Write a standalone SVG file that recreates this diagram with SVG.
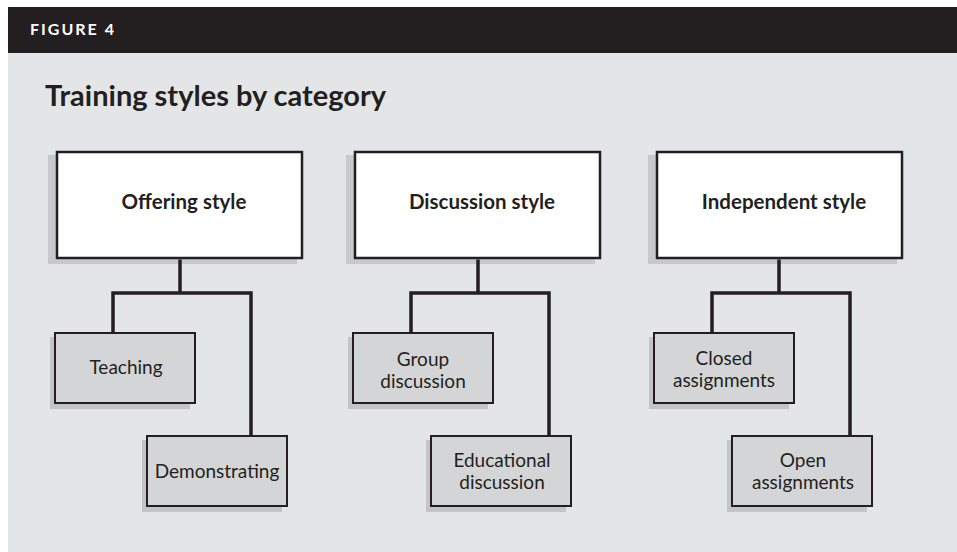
<svg xmlns="http://www.w3.org/2000/svg" width="957" height="552" viewBox="0 0 957 552">
  <defs>
    <style>
      .bg { fill: #e4e5e7; }
      .hdr { fill: #231f20; }
      .hdrtxt { font-family: Lato, "Open Sans", "Liberation Sans", sans-serif; font-weight: bold; font-size: 16px; fill: #ffffff; letter-spacing: 2px; }
      .title { font-family: Lato, "Open Sans", "Liberation Sans", sans-serif; font-weight: bold; font-size: 29px; fill: #231f20; }
      .main { fill: #ffffff; stroke: #231f20; stroke-width: 2.5; }
      .mainsh { fill: #c8c9cb; }
      .sub { fill: #d4d5d7; stroke: #231f20; stroke-width: 2; }
      .subsh { fill: #c3c4c6; }
      .mtxt { font-family: Lato, "Open Sans", "Liberation Sans", sans-serif; font-weight: bold; font-size: 20.5px; fill: #231f20; text-anchor: middle; }
      .stxt { font-family: Lato, "Open Sans", "Liberation Sans", sans-serif; font-size: 19px; fill: #231f20; text-anchor: middle; }
      .conn { fill: none; stroke: #231f20; stroke-width: 3.5; stroke-linejoin: miter; stroke-linecap: butt; }
    </style>
  </defs>

  <rect class="bg" x="8" y="53" width="949" height="499"/>
  <rect class="hdr" x="8" y="7" width="949" height="46"/>
  <text class="hdrtxt" x="30" y="35">FIGURE 4</text>
  <text class="title" x="45" y="106">Training styles by category</text>

  <g id="offering">
    <rect class="mainsh" x="48" y="155" width="249" height="109"/>
    <rect class="main" x="57" y="152" width="245" height="106"/>
    <text class="mtxt" x="184" y="209">Offering style</text>
  </g>
  <g id="discussion">
    <rect class="mainsh" x="346" y="155" width="249" height="109"/>
    <rect class="main" x="355" y="152" width="245" height="106"/>
    <text class="mtxt" x="482" y="209">Discussion style</text>
  </g>
  <g id="independent">
    <rect class="mainsh" x="648" y="155" width="249" height="109"/>
    <rect class="main" x="657" y="152" width="245" height="106"/>
    <text class="mtxt" x="784" y="209">Independent style</text>
  </g>

  <g id="teaching">
    <rect class="subsh" x="50" y="337" width="140" height="72"/>
    <rect class="sub" x="55" y="333" width="140" height="70"/>
    <text class="stxt" x="126" y="374">Teaching</text>
  </g>
  <g id="demonstrating">
    <rect class="subsh" x="142" y="440" width="140" height="72"/>
    <rect class="sub" x="147" y="436" width="140" height="70"/>
    <text class="stxt" x="217" y="478">Demonstrating</text>
  </g>
  <g id="group-discussion">
    <rect class="subsh" x="348" y="337" width="140" height="72"/>
    <rect class="sub" x="353" y="333" width="140" height="70"/>
    <text class="stxt" x="423" y="366">Group</text>
    <text class="stxt" x="423" y="388">discussion</text>
  </g>
  <g id="educational-discussion">
    <rect class="subsh" x="426" y="440" width="140" height="72"/>
    <rect class="sub" x="431" y="436" width="140" height="70"/>
    <text class="stxt" x="502" y="467">Educational</text>
    <text class="stxt" x="502" y="489">discussion</text>
  </g>
  <g id="closed-assignments">
    <rect class="subsh" x="649" y="337" width="140" height="72"/>
    <rect class="sub" x="654" y="333" width="140" height="70"/>
    <text class="stxt" x="724" y="365">Closed</text>
    <text class="stxt" x="724" y="387">assignments</text>
  </g>
  <g id="open-assignments">
    <rect class="subsh" x="727" y="440" width="140" height="72"/>
    <rect class="sub" x="732" y="436" width="140" height="70"/>
    <text class="stxt" x="803" y="467">Open</text>
    <text class="stxt" x="803" y="489">assignments</text>
  </g>

  <g id="connectors">
    <path class="conn" d="M180 259.5 V293 M113 332 V293 H251 V435"/>
    <path class="conn" d="M478 259.5 V293 M411 332 V293 H549 V435"/>
    <path class="conn" d="M779 259.5 V293 M712 332 V293 H850 V435"/>
  </g>
</svg>
